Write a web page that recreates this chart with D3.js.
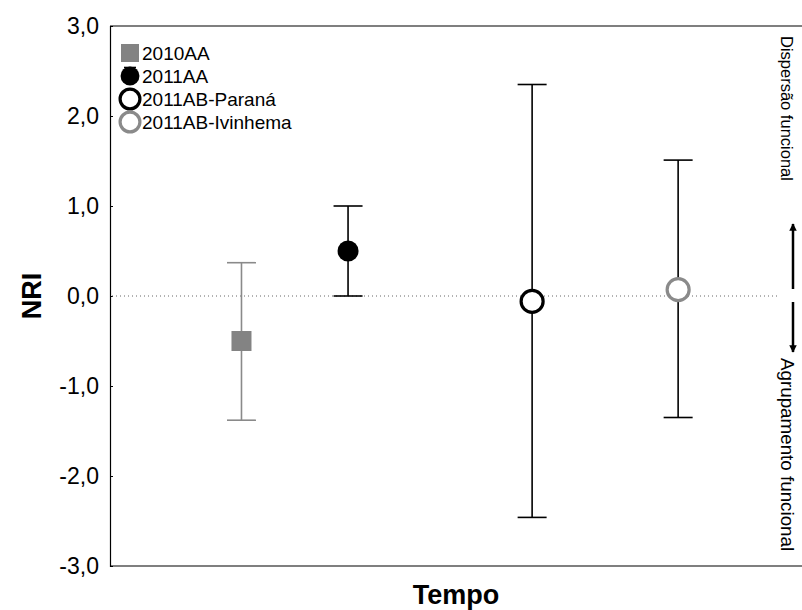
<!DOCTYPE html>
<html>
<head>
<meta charset="utf-8">
<script src="https://cdn.jsdelivr.net/npm/d3@7"></script>
<style>
  body { margin: 0; background: #fff; }
  svg { display: block; font-family: Arial, "Liberation Sans", sans-serif; }
</style>
</head>
<body>
<svg id="chart" width="802" height="610"></svg>
<script>
// Series shown along the time axis
const series = ["2010AA", "2011AA", "2011AB-Paraná", "2011AB-Ivinhema"];
// Relative position of each sampling on the time axis
const tempo = [0.19, 0.344, 0.61, 0.821];
// NRI mean and interval bounds
const nriMean = [-0.50, 0.50, -0.06, 0.07];
const nriUpper = [0.37, 1.00, 2.35, 1.51];
const nriLower = [-1.38, 0.00, -2.46, -1.35];
// Y-axis ticks
const yTicks = [3, 2, 1, 0, -1, -2, -3];

const styles = [
  { shape: "square", fill: "#838383", stroke: "none", bar: "#8a8a8a" },
  { shape: "circle", fill: "#000", stroke: "none", bar: "#000" },
  { shape: "circle", fill: "#fff", stroke: "#000", bar: "#000" },
  { shape: "circle", fill: "#fff", stroke: "#8a8a8a", bar: "#000" }
];

const svg = d3.select("#chart");
const plotLeft = 110, plotRight = 802, plotTop = 26, plotBottom = 566;

const y = d3.scaleLinear().domain([-3, 3]).range([plotBottom, plotTop]);
const x = d3.scaleLinear().domain([0, 1]).range([plotLeft, plotRight]);

// Frame: left axis, top and bottom borders
svg.append("line").attr("x1", plotLeft).attr("x2", plotRight).attr("y1", plotTop).attr("y2", plotTop)
  .attr("stroke", "#000").attr("stroke-width", 1.2);
svg.append("line").attr("x1", plotLeft).attr("x2", plotRight).attr("y1", plotBottom).attr("y2", plotBottom)
  .attr("stroke", "#000").attr("stroke-width", 1.2);

const yAxis = d3.axisLeft(y).tickValues(yTicks).tickSize(-3).tickPadding(11)
  .tickFormat(d => d3.format(".1f")(d).replace(".", ",").replace("−", "-"));
const ga = svg.append("g").attr("transform", `translate(${plotLeft},0)`).call(yAxis);
ga.select(".domain").attr("stroke-width", 1.2);
ga.selectAll(".tick line").attr("stroke-width", 1);
ga.selectAll(".tick text").attr("font-size", 23).attr("font-family", "Arial, 'Liberation Sans', sans-serif")
  .attr("fill", "#000");

// Zero reference line
svg.append("line").attr("x1", plotLeft + 2).attr("x2", 778).attr("y1", y(0)).attr("y2", y(0))
  .attr("stroke", "#666").attr("stroke-width", 1).attr("stroke-dasharray", "1,3");

// Error bars
const capHalf = 14.5;
const g = svg.append("g");
series.forEach((s, i) => {
  const cx = x(tempo[i]);
  const col = styles[i].bar;
  g.append("line").attr("x1", cx).attr("x2", cx).attr("y1", y(nriUpper[i])).attr("y2", y(nriLower[i]))
    .attr("stroke", col).attr("stroke-width", 1.6);
  [nriUpper[i], nriLower[i]].forEach(v => {
    g.append("line").attr("x1", cx - capHalf).attr("x2", cx + capHalf).attr("y1", y(v)).attr("y2", y(v))
      .attr("stroke", col).attr("stroke-width", 1.6);
  });
});

function marker(sel, i, cx, cy, scale = 1) {
  const st = styles[i];
  if (st.shape === "square") {
    sel.append("rect").attr("x", cx - 10 * scale).attr("y", cy - 10 * scale)
      .attr("width", 20 * scale).attr("height", 20 * scale).attr("fill", st.fill);
  } else if (st.stroke === "none") {
    sel.append("circle").attr("cx", cx).attr("cy", cy).attr("r", 10.5 * scale).attr("fill", st.fill);
  } else {
    sel.append("circle").attr("cx", cx).attr("cy", cy).attr("r", 11 * scale)
      .attr("fill", st.fill).attr("stroke", st.stroke).attr("stroke-width", 3.2);
  }
}

series.forEach((s, i) => marker(g, i, x(tempo[i]), y(nriMean[i])));

// Legend
const leg = svg.append("g");
series.forEach((s, i) => {
  const ly = 53 + i * 23;
  marker(leg, i, 130, ly, 0.9);
  if (i === 1) {
    leg.append("line").attr("x1", 124).attr("x2", 136).attr("y1", ly - 8.5).attr("y2", ly - 8.5)
      .attr("stroke", "#000").attr("stroke-width", 1.6);
  }
  leg.append("text").attr("x", 142).attr("y", ly).attr("dy", "0.36em")
    .attr("font-size", 19).attr("fill", "#000").text(s);
});

// Axis titles
svg.append("text").attr("transform", `translate(41,${y(0)}) rotate(-90)`)
  .attr("text-anchor", "middle").attr("font-size", 27).attr("font-weight", "bold").text("NRI");
svg.append("text").attr("x", 456).attr("y", 604)
  .attr("text-anchor", "middle").attr("font-size", 27).attr("font-weight", "bold").text("Tempo");

// Right-hand annotations with direction arrows
svg.append("text").attr("transform", "translate(781,36) rotate(90)")
  .attr("font-size", 16.5).text("Dispersão funcional");
svg.append("text").attr("transform", "translate(781,358) rotate(90)")
  .attr("font-size", 18.8).text("Agrupamento funcional");

const defs = svg.append("defs");
defs.append("marker").attr("id", "ah").attr("viewBox", "0 0 10 10").attr("refX", 9).attr("refY", 5)
  .attr("markerWidth", 3).attr("markerHeight", 4).attr("orient", "auto")
  .append("path").attr("d", "M0,0 L10,5 L0,10 Z").attr("fill", "#000");
svg.append("line").attr("x1", 793).attr("x2", 793).attr("y1", 289).attr("y2", 224)
  .attr("stroke", "#000").attr("stroke-width", 2.5).attr("marker-end", "url(#ah)");
svg.append("line").attr("x1", 793).attr("x2", 793).attr("y1", 302).attr("y2", 352)
  .attr("stroke", "#000").attr("stroke-width", 2.5).attr("marker-end", "url(#ah)");
</script>
</body>
</html>
